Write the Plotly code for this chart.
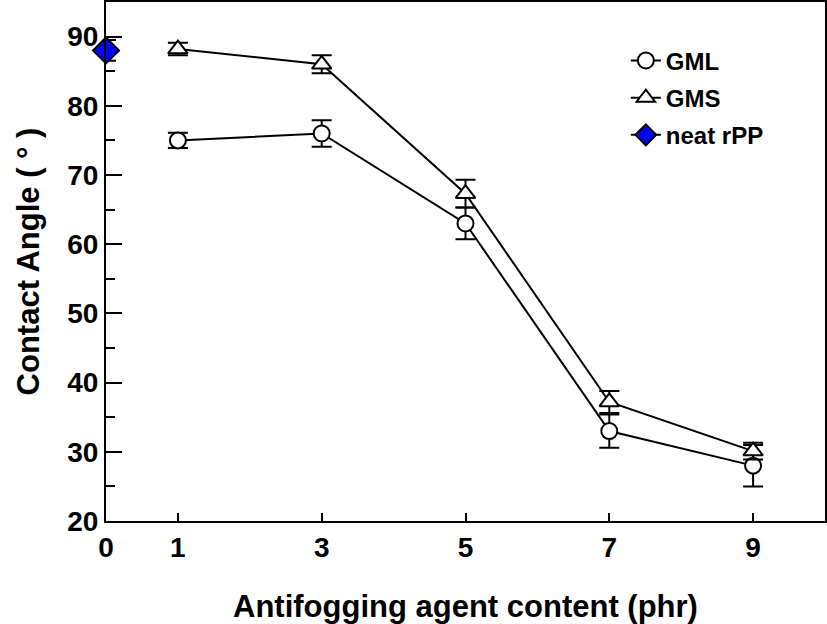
import plotly.graph_objects as go

content = [1, 3, 5, 7, 9]
gml = [75.0, 76.0, 63.0, 33.0, 28.0]
gml_err = [1.1, 1.9, 2.3, 2.4, 3.0]
gms = [88.2, 86.0, 67.3, 37.2, 30.1]
gms_err = [0.9, 1.3, 2.0, 1.6, 1.2]
neat_x = [0]
neat = [88.0]
neat_err = [1.5]
xticks = [0, 1, 3, 5, 7, 9]
yticks = [20, 30, 40, 50, 60, 70, 80, 90]

FONT = "Liberation Sans, Arial, sans-serif"

fig = go.Figure()
fig.add_trace(go.Scatter(
    x=content, y=gml, name="GML", mode="lines+markers", legendgroup="a",
    line=dict(color="black", width=2),
    marker=dict(symbol="circle", size=16, color="white", line=dict(color="black", width=2)),
    error_y=dict(type="data", array=gml_err, color="black", thickness=2, width=10),
    cliponaxis=False,
))
fig.add_trace(go.Scatter(
    x=content, y=gms, name="GMS", mode="lines+markers", legendgroup="b",
    line=dict(color="black", width=2),
    marker=dict(symbol="triangle-up", size=17, color="white", line=dict(color="black", width=2)),
    error_y=dict(type="data", array=gms_err, color="black", thickness=2, width=10),
    cliponaxis=False,
))
fig.add_trace(go.Scatter(
    x=neat_x, y=neat, name="neat rPP", mode="lines+markers", legendgroup="c",
    line=dict(color="black", width=2),
    marker=dict(symbol="diamond", size=20, color="#0000FF", line=dict(color="black", width=2)),
    error_y=dict(type="data", array=neat_err, color="black", thickness=2, width=10),
    cliponaxis=False,
))

fig.update_layout(
    width=827, height=624,
    margin=dict(l=106, r=2, t=2, b=103, autoexpand=False),
    paper_bgcolor="white", plot_bgcolor="white",
    font=dict(family=FONT, color="black", size=26),
    showlegend=True,
    legend=dict(
        x=0.723, y=0.93, xanchor="left", yanchor="top",
        bgcolor="rgba(0,0,0,0)", traceorder="grouped", tracegroupgap=3,
        font=dict(family=FONT, size=24, color="black", weight="bold"),
    ),
    xaxis=dict(
        range=[0, 10], tickmode="array", tickvals=xticks, automargin=False,
        ticks="inside", ticklen=8, tickwidth=2, tickcolor="black",
        showline=True, linecolor="black", linewidth=2, mirror=True,
        showgrid=False, zeroline=False,
        tickfont=dict(family=FONT, size=28, weight="bold"),
        title=dict(text="Antifogging agent content (phr)", standoff=34,
                   font=dict(family=FONT, size=31, weight="bold")),
    ),
    yaxis=dict(
        range=[20, 95], tickmode="array", tickvals=yticks, automargin=False,
        ticks="inside", ticklen=16, tickwidth=2, tickcolor="black",
        minor=dict(ticks="inside", ticklen=9, tickwidth=2, tickcolor="black", dtick=5, tick0=20),
        showline=True, linecolor="black", linewidth=2, mirror=True,
        showgrid=False, zeroline=False,
        tickfont=dict(family=FONT, size=28, weight="bold"),
        title=dict(text="Contact Angle ( ° )", standoff=18,
                   font=dict(family=FONT, size=31, weight="bold")),
    ),
)

fig.write_html(
    "out.html",
    config={"displayModeBar": False},
    post_script="document.body.style.margin='0px';document.body.style.overflow='hidden';",
)
